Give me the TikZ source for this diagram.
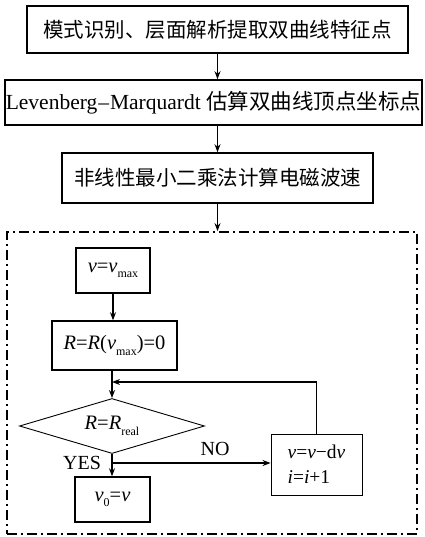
\documentclass[tikz,border=0pt]{standalone}
\usepackage{fontspec}
\setmainfont{Liberation Serif}
\newfontfamily\cjk{Noto Sans CJK SC}
\usetikzlibrary{arrows.meta,shapes.geometric,calc}
\newcommand\mysub[1]{\raisebox{-0.6ex}{\fontsize{12}{12}\selectfont #1}}
\tikzset{
  bigbox/.style={draw, line width=1.6pt, inner sep=0pt, font=\fontsize{20.5}{24}\selectfont},
  smallbox/.style={draw, line width=1.5pt, inner sep=0pt, font=\fontsize{20.5}{24}\selectfont},
  thinbox/.style={draw, line width=0.9pt, inner sep=0pt, font=\fontsize{19.5}{25}\selectfont},
  arr/.style={line width=1.1pt, -{Stealth[length=8pt,width=6pt]}},
  framebox/.style={draw, line width=1.8pt, dash pattern=on 10pt off 4pt on 2pt off 4pt, inner sep=0pt},
  lbl/.style={font=\fontsize{20}{22}\selectfont, inner sep=0pt}
}
\begin{document}
\begin{tikzpicture}[x=1pt,y=-1pt]
\useasboundingbox (0,0) rectangle (424,537);
\node[bigbox, minimum width=381pt, minimum height=47pt] (b1) at (217.5,29.5)
  {\cjk 模式识别、层面解析提取双曲线特征点};
\node[bigbox, minimum width=417pt, minimum height=45pt] (b2) at (213.5,102.5)
  {\fontsize{21.5}{24}\selectfont Levenberg\kern1pt–\kern1pt Marquardt {\cjk 估算双曲线顶点坐标点}};
\node[bigbox, minimum width=311pt, minimum height=50pt] (b3) at (217.5,178)
  {\cjk 非线性最小二乘法计算电磁波速};
\node[framebox, minimum width=410pt, minimum height=302pt] (fr) at (212,383) {};

\node[smallbox, minimum width=74pt, minimum height=45pt] (a1) at (113,270.5)
  {\textit{v}=\textit{v}\mysub{max}};
\node[smallbox, minimum width=125pt, minimum height=49pt] (a2) at (114.5,345.5)
  {\textit{R}=\textit{R}(\textit{v}\mysub{max})=0};
\node[draw, line width=0.9pt, shape=diamond, inner sep=0pt, aspect=3.36,
  minimum width=185pt, minimum height=55pt, font=\fontsize{20.5}{24}\selectfont] (d) at (112,426)
  {\textit{R}=\textit{R}\mysub{real}};
\node[smallbox, minimum width=75pt, minimum height=45pt] (v0) at (112.5,499.5)
  {\textit{v}\mysub{0}=\textit{v}};
\node[thinbox, minimum width=91pt, minimum height=61pt, align=left] (r) at (316.5,464.5)
  {\textit{v}=\textit{v}−d\textit{v}\\\textit{i}=\textit{i}+1};

\coordinate (j) at (112,463);
\coordinate (fb) at (112,382);

\draw[arr] (b1.south) -- (b1.south |- b2.north);
\draw[arr] (b3.north |- b2.south) -- (b3.north);
\draw[arr] (b3.south) -- (b3.south |- fr.north);
\draw[arr] (a1.south) -- (a1.south |- a2.north);
\draw[arr] (d.north |- a2.south) -- (d.north);
\draw[arr] (d.south) -- (d.south |- v0.north);
\draw[arr] (j) -- (j -| r.west);
\draw[arr] (r.north) |- (fb);

\node[lbl] (yes) at (82,463) {YES};
\node[lbl] (no) at (215,449) {NO};
\end{tikzpicture}
\end{document}
